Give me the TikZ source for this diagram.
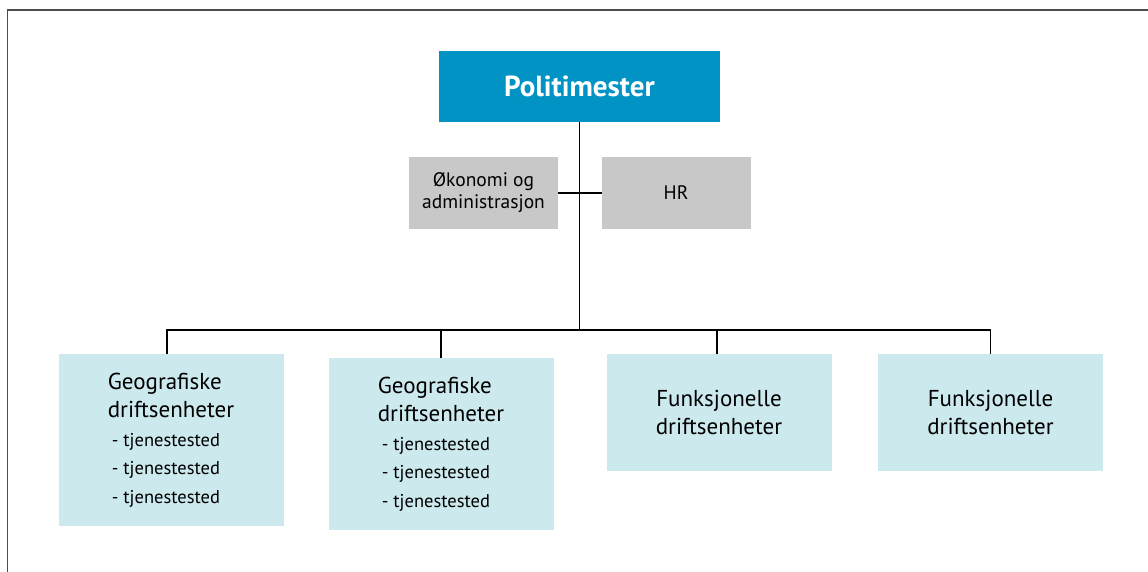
\documentclass[tikz,border=0pt]{standalone}
\usepackage{fontspec}
\setmainfont{PT Sans}
\usepackage{xcolor}
\usetikzlibrary{calc}

\definecolor{chiefblue}{RGB}{0,147,196}
\definecolor{staffgray}{RGB}{200,200,200}
\definecolor{unitblue}{RGB}{204,233,238}

\tikzset{
  chiefbox/.style={fill=chiefblue,text=white,inner sep=0pt,outer sep=0pt,
    minimum width=281,minimum height=71,font=\bfseries\fontsize{29}{32}\selectfont},
  staffbox/.style={fill=staffgray,inner sep=0pt,outer sep=0pt,align=center,
    minimum width=149,minimum height=72,font=\fontsize{19.5}{22}\selectfont},
  unitbox/.style={fill=unitblue,inner sep=0pt,outer sep=0pt,
    minimum width=225,font=\fontsize{23}{28.5}\selectfont},
  link/.style={line width=1.4pt,black}
}
\newcommand{\tjsted}{\hspace*{4pt}{\fontsize{18.5}{28.5}\selectfont - tjenestested}}

\begin{document}
\begin{tikzpicture}[x=1pt,y=-1pt]
\useasboundingbox (0,0) rectangle (1148,572);
\draw[line width=1.6pt,black!70] (7.5,572) -- (7.5,10) -- (1148,10);

\node[chiefbox] (chief) at (579.5,86.5) {Politimester};
\node[staffbox] (okadm) at (483.5,193) {Økonomi og\\administrasjon};
\node[staffbox] (hr) at (676,193) {HR};

\node[unitbox,minimum height=172,align=left] (geo1) at (171,440)
  {Geografiske\\driftsenheter\\\tjsted\\\tjsted\\\tjsted};
\node[unitbox,minimum height=172,align=left] (geo2) at (441,444)
  {Geografiske\\driftsenheter\\\tjsted\\\tjsted\\\tjsted};
\node[unitbox,minimum height=117,align=center] (fun1) at (719,412.5)
  {Funksjonelle\\driftsenheter};
\node[unitbox,minimum height=117,align=center] (fun2) at (990.5,412.5)
  {Funksjonelle\\driftsenheter};

\coordinate (bus) at (580,330);
\draw[link] (chief.south) -- (chief.south |- bus);
\draw[link] (okadm.east) -- (hr.west);
\draw[link] ([xshift=-4pt]geo1.north) |- (bus) -| (fun2.north);
\draw[link] (geo2.north) -- (geo2.north |- bus);
\draw[link] ([xshift=-2pt]fun1.north) -- ([xshift=-2pt]fun1.north |- bus);
\end{tikzpicture}
\end{document}
